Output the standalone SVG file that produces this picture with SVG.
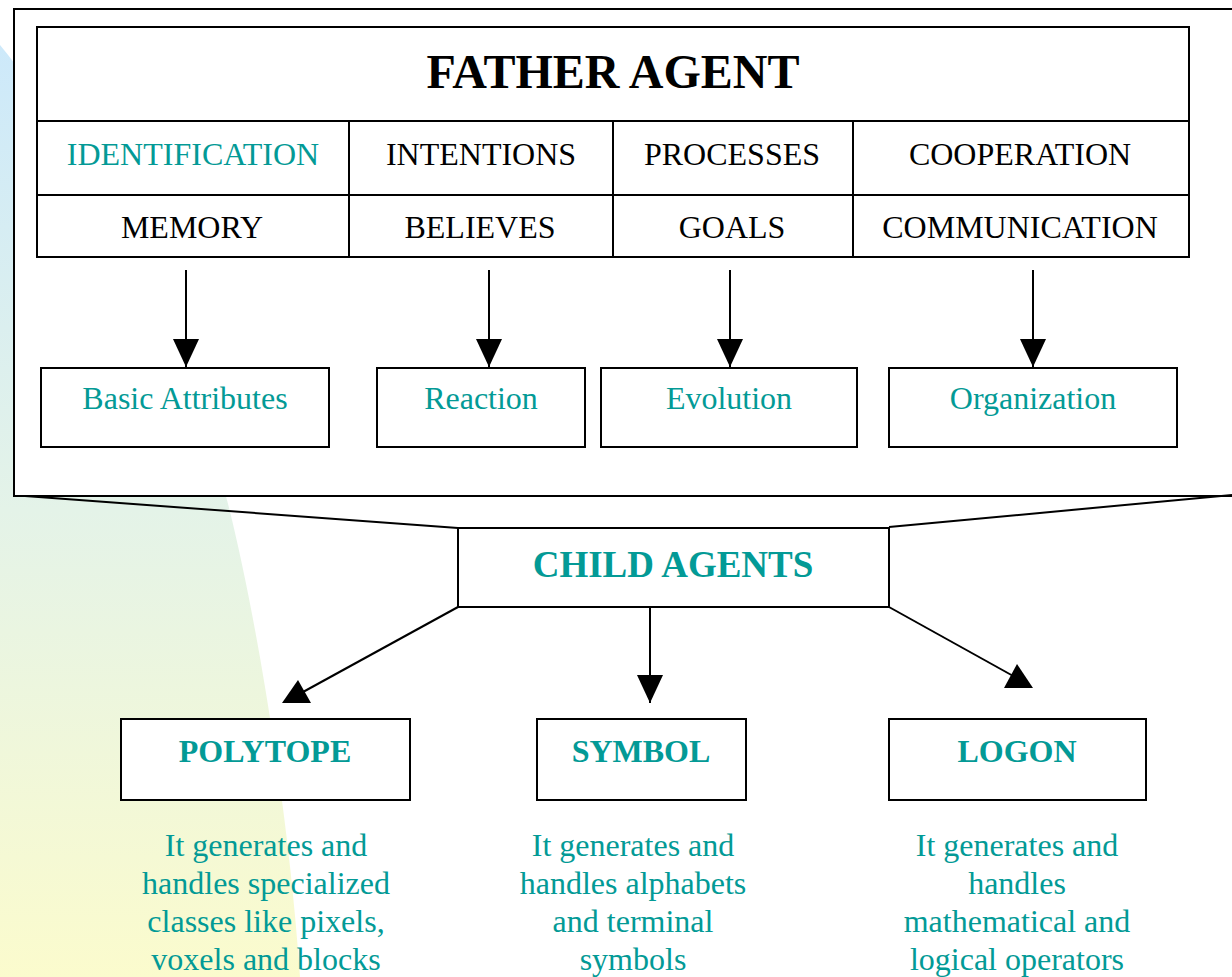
<svg xmlns="http://www.w3.org/2000/svg" width="1232" height="977" viewBox="0 0 1232 977">
  <defs>
    <linearGradient id="bgGrad" x1="0" y1="0" x2="0" y2="1">
      <stop offset="0" stop-color="#cde9fa"/>
      <stop offset="0.5" stop-color="#e4f3e8"/>
      <stop offset="1" stop-color="#fbfbcd"/>
    </linearGradient>
    <marker id="arrow" viewBox="0 0 28 26" refX="28" refY="13" markerWidth="28" markerHeight="26" markerUnits="userSpaceOnUse" orient="auto">
      <path d="M0,0 L28,13 L0,26 Z" fill="#000"/>
    </marker>
    <style>
      .box { fill: #fff; stroke: #000; stroke-width: 2; }
      .ln { fill: none; stroke: #000; stroke-width: 2; }
      .serif { font-family: "Liberation Serif", "Times New Roman", serif; }
      .cell { font-family: "Liberation Serif", "Times New Roman", serif; font-size: 32px; fill: #000; text-anchor: middle; }
      .teal { fill: #039a96; }
      .bold { font-weight: bold; }
      .desc { font-family: "Liberation Serif", "Times New Roman", serif; font-size: 32px; fill: #039a96; text-anchor: middle; }
    </style>
  </defs>

  <rect x="0" y="0" width="1232" height="977" fill="#fff"/>
  <path d="M0,45 C90,153 200,396 227,500 C253,600 288,800 300,977 L0,977 Z" fill="url(#bgGrad)"/>

  <g id="father-agent">
    <rect class="box" x="14" y="9" width="1230" height="487"/>
    <rect class="box" x="37" y="27" width="1152" height="230"/>
    <line class="ln" x1="37" y1="121" x2="1189" y2="121" stroke-width="3"/>
    <line class="ln" x1="37" y1="195" x2="1189" y2="195"/>
    <line class="ln" x1="349" y1="121" x2="349" y2="257"/>
    <line class="ln" x1="613" y1="121" x2="613" y2="257"/>
    <line class="ln" x1="853" y1="121" x2="853" y2="257"/>
    <text class="serif bold" x="613" y="88" font-size="48" text-anchor="middle" fill="#000">FATHER AGENT</text>
    <text class="cell teal" x="193" y="165">IDENTIFICATION</text>
    <text class="cell" x="481" y="165">INTENTIONS</text>
    <text class="cell" x="732" y="165">PROCESSES</text>
    <text class="cell" x="1020" y="165">COOPERATION</text>
    <text class="cell" x="192" y="238">MEMORY</text>
    <text class="cell" x="480" y="238">BELIEVES</text>
    <text class="cell" x="732" y="238">GOALS</text>
    <text class="cell" x="1020" y="238">COMMUNICATION</text>
  </g>

  <g id="basic-attributes">
    <rect class="box" x="41" y="368" width="288" height="79"/>
    <text class="cell teal" x="185" y="409">Basic Attributes</text>
  </g>
  <g id="reaction">
    <rect class="box" x="377" y="368" width="208" height="79"/>
    <text class="cell teal" x="481" y="409">Reaction</text>
  </g>
  <g id="evolution">
    <rect class="box" x="601" y="368" width="256" height="79"/>
    <text class="cell teal" x="729" y="409">Evolution</text>
  </g>
  <g id="organization">
    <rect class="box" x="889" y="368" width="288" height="79"/>
    <text class="cell teal" x="1033" y="409">Organization</text>
  </g>

  <g id="child-agents">
    <rect class="box" x="458" y="528" width="431" height="79"/>
    <text class="serif bold teal" x="673" y="577" font-size="37" text-anchor="middle">CHILD AGENTS</text>
  </g>

  <g id="polytope">
    <rect class="box" x="121" y="719" width="289" height="81"/>
    <text class="cell teal bold" x="265" y="762">POLYTOPE</text>
    <text class="desc" x="266" y="856">It generates and</text>
    <text class="desc" x="266" y="894">handles specialized</text>
    <text class="desc" x="266" y="932">classes like pixels,</text>
    <text class="desc" x="266" y="970">voxels and blocks</text>
  </g>
  <g id="symbol">
    <rect class="box" x="537" y="719" width="209" height="81"/>
    <text class="cell teal bold" x="641" y="762">SYMBOL</text>
    <text class="desc" x="633" y="856">It generates and</text>
    <text class="desc" x="633" y="894">handles alphabets</text>
    <text class="desc" x="633" y="932">and terminal</text>
    <text class="desc" x="633" y="970">symbols</text>
  </g>
  <g id="logon">
    <rect class="box" x="889" y="719" width="257" height="81"/>
    <text class="cell teal bold" x="1017" y="762">LOGON</text>
    <text class="desc" x="1017" y="856">It generates and</text>
    <text class="desc" x="1017" y="894">handles</text>
    <text class="desc" x="1017" y="932">mathematical and</text>
    <text class="desc" x="1017" y="970">logical operators</text>
  </g>

  <g id="connectors">
    <line class="ln" x1="25" y1="496" x2="458" y2="528"/>
    <line class="ln" x1="1232" y1="495" x2="889" y2="527"/>
    <line class="ln" x1="186" y1="270" x2="186" y2="367" marker-end="url(#arrow)"/>
    <line class="ln" x1="489" y1="270" x2="489" y2="367" marker-end="url(#arrow)"/>
    <line class="ln" x1="730" y1="270" x2="730" y2="367" marker-end="url(#arrow)"/>
    <line class="ln" x1="1033" y1="270" x2="1033" y2="367" marker-end="url(#arrow)"/>
    <line class="ln" x1="650" y1="607" x2="650" y2="703" marker-end="url(#arrow)"/>
    <line class="ln" x1="458" y1="607" x2="303" y2="692"/>
    <polygon points="298,680 282,703 311,703" fill="#000"/>
    <line class="ln" x1="889" y1="607" x2="1015" y2="677"/>
    <polygon points="1017,664 1004,688 1033,688" fill="#000"/>
  </g>
</svg>
